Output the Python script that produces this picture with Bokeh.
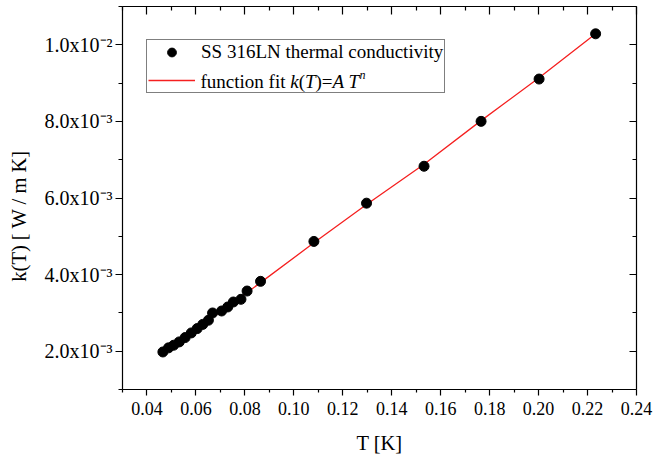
from bokeh.plotting import figure
from bokeh.models import (LinearAxis, FixedTicker, Range1d, Legend, LegendItem, Label,
                          CustomLabelingPolicy)
from bokeh.embed import file_html
from bokeh.resources import INLINE

# ---- data ----
T_data = [0.0465, 0.0488, 0.0509, 0.0532, 0.0556, 0.0581, 0.0605, 0.0628, 0.0651,
          0.0668, 0.0705, 0.0730, 0.0753, 0.0784, 0.0809, 0.0864, 0.1082, 0.1297,
          0.1532, 0.1765, 0.2002, 0.2233]
k_data = [1.980e-3, 2.087e-3, 2.156e-3, 2.243e-3, 2.356e-3, 2.477e-3, 2.590e-3, 2.700e-3,
          2.808e-3, 2.998e-3, 3.050e-3, 3.155e-3, 3.285e-3, 3.355e-3, 3.571e-3, 3.824e-3,
          4.866e-3, 5.865e-3, 6.829e-3, 8.001e-3, 9.106e-3, 1.0287e-2]

fit_T = [0.0465, 0.065, 0.0864, 0.1082, 0.1297, 0.1532, 0.1765, 0.2002, 0.2233]
fit_k = [1.97e-3, 2.80e-3, 3.79e-3, 4.83e-3, 5.83e-3, 6.88e-3, 8.02e-3, 9.14e-3, 1.029e-2]

x_major = [0.04, 0.06, 0.08, 0.10, 0.12, 0.14, 0.16, 0.18, 0.20, 0.22, 0.24]
x_major_labels = ["0.04", "0.06", "0.08", "0.10", "0.12", "0.14", "0.16", "0.18", "0.20", "0.22", "0.24"]
x_minor = [0.03, 0.05, 0.07, 0.09, 0.11, 0.13, 0.15, 0.17, 0.19, 0.21, 0.23]

y_major = [0.002, 0.004, 0.006, 0.008, 0.010]
y_major_labels = ["2.0x10\u207b\u00b3", "4.0x10\u207b\u00b3", "6.0x10\u207b\u00b3",
                  "8.0x10\u207b\u00b3", "1.0x10\u207b\u00b2"]
y_minor = [0.001, 0.003, 0.005, 0.007, 0.009, 0.011]

series_label = "SS 316LN thermal conductivity"
x_title = "T [K]"
y_title = "k(T) [ W / m K]"

X0, X1 = 0.03, 0.24
Y0, Y1 = 0.001, 0.011
FONT = "Liberation Serif"

# frame geometry (pixels)
FL, FR, FT, FB = 122, 636, 6, 389
W, H = 656, 458

p = figure(width=W, height=H, output_backend="svg", toolbar_location=None,
           x_range=Range1d(X0, X1), y_range=Range1d(Y0, Y1),
           min_border_left=FL, min_border_right=W - FR, min_border_top=FT,
           min_border_bottom=H - FB)
p.xgrid.visible = False
p.ygrid.visible = False
p.outline_line_color = None
p.background_fill_color = "white"
p.border_fill_color = "white"

xt = FixedTicker(ticks=x_major, minor_ticks=x_minor)
yt = FixedTicker(ticks=y_major, minor_ticks=y_minor)

def style_axis(ax, ticker, tin, tout, mtin, mtout):
    ax.ticker = ticker
    ax.axis_line_color = "black"
    ax.axis_line_width = 1.2
    ax.major_tick_line_color = "black"
    ax.minor_tick_line_color = "black"
    ax.major_tick_line_width = 1.2
    ax.minor_tick_line_width = 1.2
    ax.major_tick_in = tin
    ax.major_tick_out = tout
    ax.minor_tick_in = mtin
    ax.minor_tick_out = mtout
    ax.major_label_text_font = FONT
    ax.major_label_text_color = "black"
    ax.major_label_text_font_size = "18px"
    ax.axis_label_text_font = FONT
    ax.axis_label_text_font_size = "20.5px"
    ax.axis_label_text_font_style = "normal"
    ax.axis_label_text_color = "black"

bx = p.xaxis[0]
style_axis(bx, xt, 0, 6, 0, 3)
bx.major_label_overrides = dict(zip(x_major, x_major_labels))
bx.major_label_standoff = 6
bx.axis_label = x_title
bx.axis_label_standoff = 14

ly = p.yaxis[0]
style_axis(ly, yt, 0, 7, 0, 4)
ly.major_label_overrides = dict(zip(y_major, y_major_labels))
ly.major_label_text_font_size = "20px"
ly.major_label_standoff = 3
# trailing no-break spaces move the visible title a little below the frame centre
ly.axis_label = y_title + "\u00a0" * 7
ly.axis_label_standoff = 12

HIDE = "const all = [...indices]; for (const i of all) indices.unset(i); return indices"

top = LinearAxis()
style_axis(top, xt, 8, 0, 4, 0)
top.major_label_text_font_size = "1px"
top.major_label_standoff = 0
top.major_label_policy = CustomLabelingPolicy(code=HIDE)
p.add_layout(top, "above")

right = LinearAxis()
style_axis(right, yt, 7, 0, 4, 0)
right.major_label_text_font_size = "1px"
right.major_label_standoff = 0
right.major_label_policy = CustomLabelingPolicy(code=HIDE)
p.add_layout(right, "right")

ln = p.line(fit_T, fit_k, line_color="#f52020", line_width=1.3)
sc = p.scatter(T_data, k_data, size=10, fill_color="black", line_color="black")

legend = Legend(items=[LegendItem(label=series_label, renderers=[sc]),
                       LegendItem(label=" ", renderers=[ln])],
                location=(146 - FL, FB - 93), padding=1, spacing=6, glyph_width=47,
                glyph_height=22, label_height=22, label_standoff=6,
                label_text_font=FONT, label_text_font_size="19px",
                label_text_color="black", border_line_color="black",
                border_line_width=1.2, background_fill_color="white",
                background_fill_alpha=0.0, margin=0)
p.add_layout(legend, "center")

W_REG = {' ': 250, '(': 333, ')': 333, '=': 564, 'f': 333, 'u': 500, 'n': 500,
         'c': 444, 't': 278, 'i': 278, 'o': 500}
W_IT = {' ': 250, 'k': 444, 'T': 556, 'A': 611, 'n': 500}

def tw(s, size, italic):
    tab = W_IT if italic else W_REG
    return sum(tab.get(c, 500) for c in s) / 1000.0 * size

def add_pieces(pieces, x0, y0):
    pos = 0.0
    for text, italic, size, off in pieces:
        p.add_layout(Label(x=x0 + pos, y=y0 + off, x_units="canvas", y_units="canvas",
                           text=text, text_font=FONT, text_font_size=f"{size}px",
                           text_font_style="italic" if italic else "normal",
                           text_color="black", text_align="left",
                           text_baseline="middle", level="overlay"))
        pos += tw(text, size, italic)

# legend second entry text: function fit k(T)=A T^n
LS = 19
add_pieces([("function fit ", False, LS, 0), ("k", True, LS, 0), ("(", False, LS, 0),
            ("T", True, LS, 0), (")=", False, LS, 0), ("A T", True, LS, 0),
            ("n", True, 12, -7)], 200, 81)

open("out.html", "w").write(file_html(p, INLINE))
